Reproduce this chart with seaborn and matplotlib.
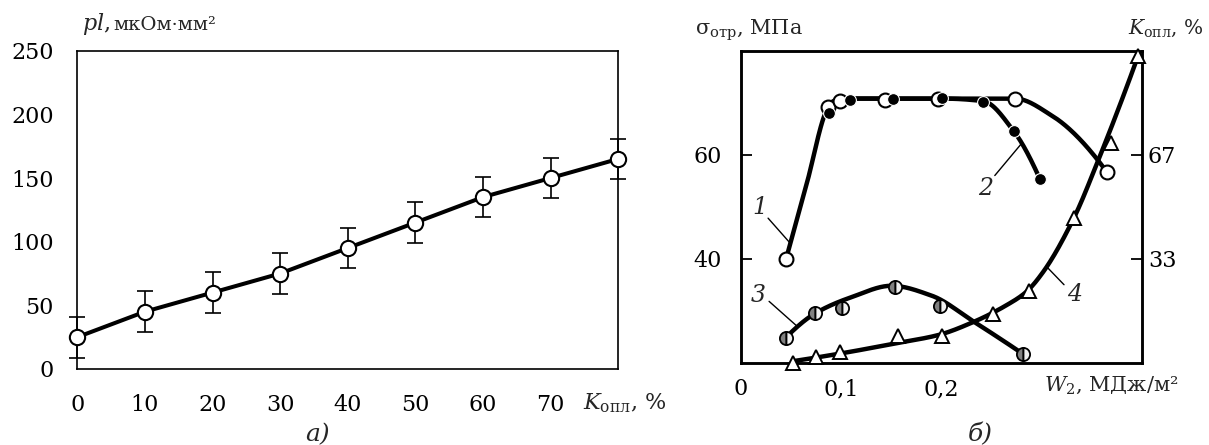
import numpy as np
import pandas as pd
import matplotlib
matplotlib.use("Agg")
import matplotlib.pyplot as plt
import seaborn as sns

# ---- panel а: resistance vs. fused fraction ----
k_fused = [0, 10, 20, 30, 40, 50, 60, 70, 80]
rho_l = [25, 45, 60, 75, 95, 115, 135, 150, 165]
rho_err = [16, 16, 16, 16, 16, 16, 16, 16, 16]
a_xticks = [0, 10, 20, 30, 40, 50, 60, 70]
a_yticks = [0, 50, 100, 150, 200, 250]

# ---- panel б: measured points ----
w_1 = [0.045, 0.087, 0.099, 0.144, 0.196, 0.273, 0.365]
sigma_1 = [40.0, 69.2, 70.4, 70.5, 70.7, 70.7, 56.6]
w_2 = [0.088, 0.109, 0.152, 0.200, 0.2415, 0.272, 0.298]
sigma_2 = [68.1, 70.5, 70.7, 71.0, 70.2, 64.5, 55.3]
w_3 = [0.045, 0.074, 0.101, 0.154, 0.198, 0.281]
sigma_3 = [24.7, 29.6, 30.6, 34.6, 30.9, 21.6]
w_4 = [0.052, 0.075, 0.099, 0.1565, 0.200, 0.251, 0.287, 0.332, 0.369, 0.396]
k_4 = [0.0, 1.8, 3.4, 8.5, 8.5, 15.5, 23.0, 46.5, 70.5, 98.4]

# ---- panel б: knots of the smoothed trend curves ----
c1_w = [0.045, 0.0655, 0.086, 0.092, 0.100, 0.273, 0.310, 0.365]
c1_s = [40.0, 54.4, 68.8, 70.3, 70.8, 70.8, 67.5, 56.6]
c2_w = [0.088, 0.095, 0.105, 0.200, 0.2415, 0.272, 0.298]
c2_s = [68.1, 70.2, 70.8, 70.8, 70.3, 64.5, 55.3]
c3_w = [0.045, 0.074, 0.110, 0.150, 0.190, 0.232, 0.281]
c3_s = [24.9, 29.5, 32.6, 34.8, 32.9, 27.9, 21.7]
c4_w = [0.052, 0.100, 0.154, 0.197, 0.232, 0.265, 0.284, 0.301, 0.332, 0.355, 0.396]
c4_k = [0.5, 3.0, 6.2, 8.9, 13.1, 18.5, 22.6, 29.0, 46.5, 64.0, 98.5]

b_xticks = [0.0, 0.1, 0.2, 0.3]
b_xlabels = ["0", "0,1", "0,2", ""]
b_yticks = [40, 60]
b_ktick_vals = [100 / 3, 200 / 3]
b_ktick_labels = ["33", "67"]


def pchip(xk, yk, xs):
    """Shape-preserving cubic through the knots."""
    xk = np.asarray(xk, float)
    yk = np.asarray(yk, float)
    h = np.diff(xk)
    d = np.diff(yk) / h
    m = np.zeros_like(yk)
    for i in range(1, len(xk) - 1):
        if d[i - 1] * d[i] > 0:
            w1 = 2 * h[i] + h[i - 1]
            w2 = h[i] + 2 * h[i - 1]
            m[i] = (w1 + w2) / (w1 / d[i - 1] + w2 / d[i])

    def end(h0, h1, d0, d1):
        mm = ((2 * h0 + h1) * d0 - h0 * d1) / (h0 + h1)
        if np.sign(mm) != np.sign(d0):
            mm = 0.0
        elif np.sign(d0) != np.sign(d1) and abs(mm) > abs(3 * d0):
            mm = 3 * d0
        return mm

    m[0] = end(h[0], h[1], d[0], d[1])
    m[-1] = end(h[-1], h[-2], d[-1], d[-2])
    idx = np.clip(np.searchsorted(xk, xs) - 1, 0, len(h) - 1)
    t = (xs - xk[idx]) / h[idx]
    h00 = 2 * t**3 - 3 * t**2 + 1
    h10 = t**3 - 2 * t**2 + t
    h01 = -2 * t**3 + 3 * t**2
    h11 = t**3 - t**2
    return (h00 * yk[idx] + h10 * h[idx] * m[idx]
            + h01 * yk[idx + 1] + h11 * h[idx] * m[idx + 1])


def smooth(xk, yk, n=400):
    xs = np.linspace(xk[0], xk[-1], n)
    return pd.DataFrame({"x": xs, "y": pchip(xk, yk, xs)})


sns.set_theme(style="white")
plt.rcParams["font.family"] = ["DejaVu Serif"]
plt.rcParams["mathtext.fontset"] = "dejavuserif"
plt.rcParams["axes.edgecolor"] = "black"
FS = 16

fig = plt.figure(figsize=(12.09, 4.45), dpi=100)
ax_a = fig.add_axes([0.0639, 0.1708, 0.4475, 0.7153])
ax_b = fig.add_axes([0.6129, 0.1849, 0.3319, 0.7011])

# ================= panel а =================
ax_a.errorbar(k_fused, rho_l, yerr=rho_err, fmt="none", ecolor="black",
              elinewidth=1.2, capsize=6, capthick=1.2, clip_on=False, zorder=2)
sns.lineplot(x=k_fused, y=rho_l, ax=ax_a, color="black", linewidth=2.9,
             marker="o", markersize=11, markerfacecolor="white",
             markeredgecolor="black", markeredgewidth=1.5, clip_on=False,
             zorder=3)
ax_a.set_xlim(0, 80)
ax_a.set_ylim(0, 250)
ax_a.set_xticks(a_xticks)
ax_a.set_xticklabels([str(v) for v in a_xticks])
ax_a.set_yticks(a_yticks)
ax_a.set_yticklabels([str(v) for v in a_yticks])
ax_a.tick_params(axis="both", direction="in", length=8, width=1.2,
                 labelsize=FS, colors="black")
ax_a.tick_params(axis="x", pad=18)
ax_a.tick_params(axis="y", pad=17)
for s in ax_a.spines.values():
    s.set_linewidth(1.2)
    s.set_color("black")
ax_a.set_xlabel("")
ax_a.set_ylabel("")
ax_a.text(0.935, -0.107, r"$K_{\mathrm{опл}}$, %", transform=ax_a.transAxes,
          ha="left", va="center", fontsize=FS)
ax_a.text(0.009, 1.083, r"$pl$,", transform=ax_a.transAxes,
          ha="left", va="center", fontsize=FS)
ax_a.text(0.067, 1.081, "мкОм·мм²", transform=ax_a.transAxes,
          ha="left", va="center", fontsize=FS - 2)
fig.text(0.263, 0.0225, "а)", ha="center", va="center", fontsize=FS + 2,
         style="italic")

# ================= panel б =================
ax_k = ax_b.twinx()
LW = 3.2

sns.lineplot(data=smooth(c1_w, c1_s), x="x", y="y", ax=ax_b, color="black",
             linewidth=LW, sort=False, zorder=2)
sns.lineplot(data=smooth(c2_w, c2_s), x="x", y="y", ax=ax_b, color="black",
             linewidth=LW, sort=False, zorder=2)
sns.lineplot(data=smooth(c3_w, c3_s), x="x", y="y", ax=ax_b, color="black",
             linewidth=LW, sort=False, zorder=2)

ax_b.plot(w_1, sigma_1, linestyle="none", marker="o", markersize=10,
          markerfacecolor="white", markeredgecolor="black",
          markeredgewidth=1.5, clip_on=False, zorder=3)
ax_b.plot(w_2, sigma_2, linestyle="none", marker="o", markersize=8.5,
          markerfacecolor="black", markeredgecolor="white",
          markeredgewidth=0.8, clip_on=False, zorder=4)
ax_b.plot(w_3, sigma_3, linestyle="none", marker="o", markersize=9.5,
          fillstyle="left", markerfacecolor="#808080",
          markerfacecoloralt="#f0f0f0", markeredgecolor="black",
          markeredgewidth=1.3, clip_on=False, zorder=3)

sns.lineplot(data=smooth(c4_w, c4_k), x="x", y="y", ax=ax_k, color="black",
             linewidth=LW, sort=False, zorder=2)
ax_k.plot(w_4, k_4, linestyle="none", marker="^", markersize=10,
          markerfacecolor="white", markeredgecolor="black",
          markeredgewidth=1.4, clip_on=False, zorder=3)

# curve numbers with leader lines
leaders = [
    ("1", (0.019, 49.8), (0.027, 47.8), (0.049, 43.0)),
    ("2", (0.244, 53.6), (0.253, 56.0), (0.279, 62.0)),
    ("3", (0.017, 33.0), (0.028, 31.8), (0.056, 27.0)),
    ("4", (0.333, 33.2), (0.322, 35.0), (0.305, 38.4)),
]
for lab, tpos, p0, p1 in leaders:
    ax_b.text(*tpos, lab, ha="center", va="center", fontsize=FS + 1,
              style="italic", zorder=5)
    ax_b.plot([p0[0], p1[0]], [p0[1], p1[1]], color="black", linewidth=1.0,
              zorder=5)

ax_b.set_xlim(0, 0.4)
ax_b.set_ylim(20, 80)
ax_k.set_ylim(0, 100)
ax_b.set_xticks(b_xticks)
ax_b.set_xticklabels(b_xlabels)
ax_b.set_yticks(b_yticks)
ax_b.set_yticklabels([str(v) for v in b_yticks])
ax_k.set_yticks(b_ktick_vals)
ax_k.set_yticklabels(b_ktick_labels)
ax_b.tick_params(axis="both", direction="in", length=8, width=1.3,
                 labelsize=FS, colors="black")
ax_b.tick_params(axis="x", pad=11)
ax_b.tick_params(axis="y", pad=14)
ax_k.tick_params(axis="y", direction="in", length=8, width=1.3,
                 labelsize=FS, colors="black", pad=4)
for a in (ax_b, ax_k):
    a.set_xlabel("")
    a.set_ylabel("")
    for s in a.spines.values():
        s.set_linewidth(1.8)
        s.set_color("black")

ax_b.text(0.755, -0.0715, r"$W_2$, МДж/м²", transform=ax_b.transAxes,
          ha="left", va="center", fontsize=FS - 1)
ax_b.text(-0.115, 1.066, r"σ$_{\mathrm{отр}}$, МПа", transform=ax_b.transAxes,
          ha="left", va="center", fontsize=FS - 1)
ax_b.text(0.965, 1.073, r"$K_{\mathrm{опл}}$, %", transform=ax_b.transAxes,
          ha="left", va="center", fontsize=FS - 1.5)
fig.text(0.8106, 0.0225, "б)", ha="center", va="center", fontsize=FS + 2,
         style="italic")

fig.savefig("out.png", dpi=100)
